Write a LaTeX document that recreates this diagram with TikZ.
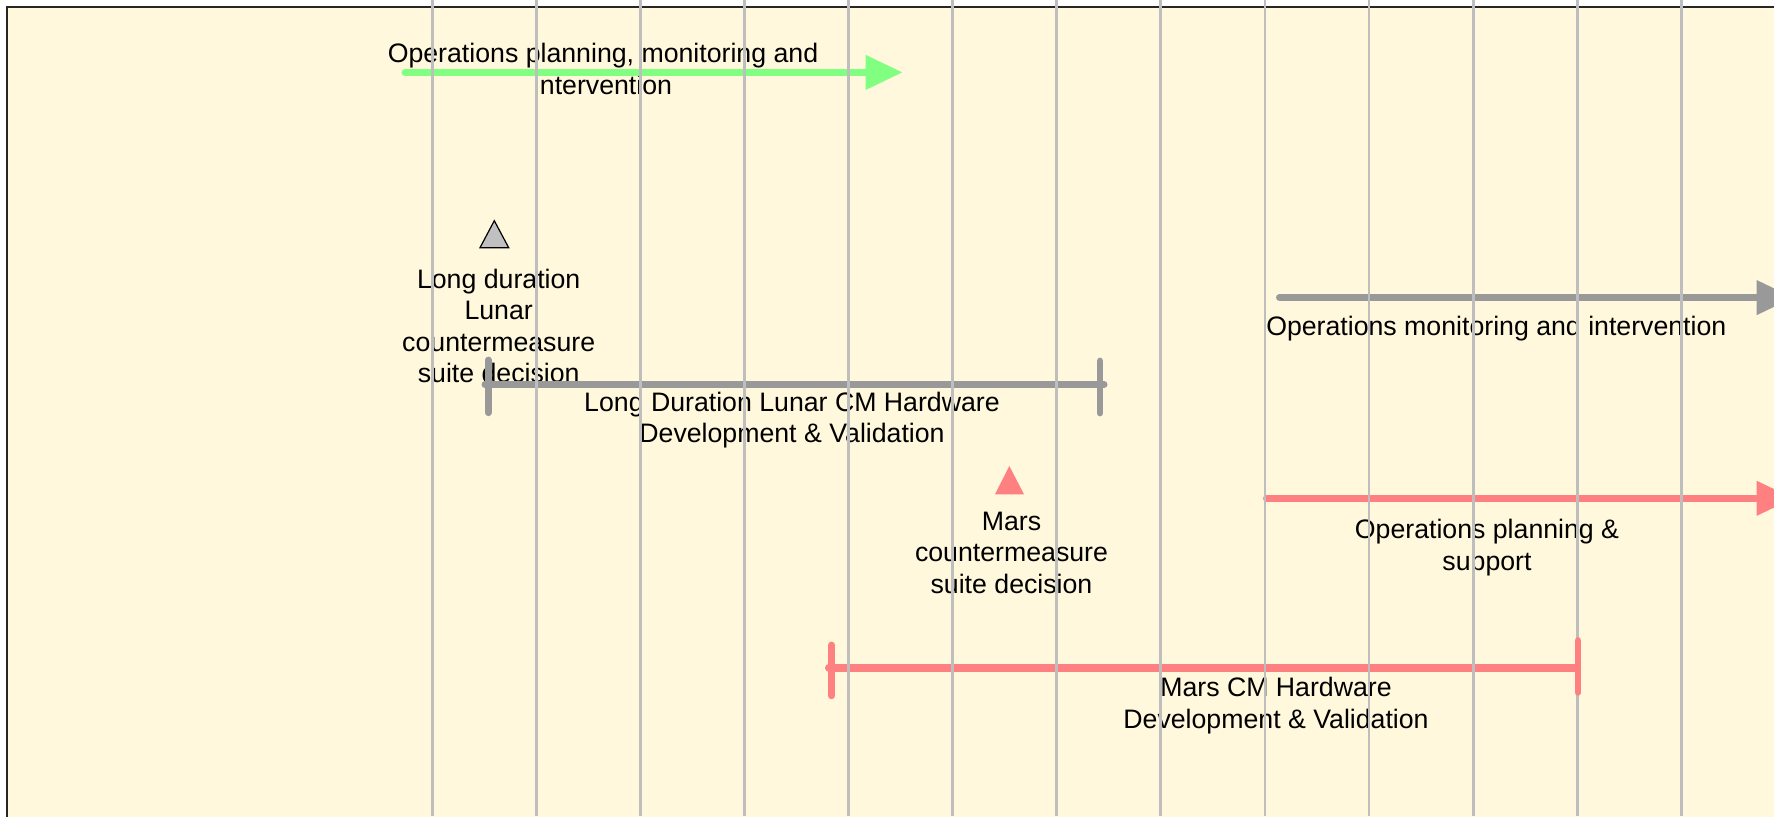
\documentclass[tikz,border=0pt]{standalone}
\usepackage{fontspec}
\setmainfont{Liberation Sans}
\usetikzlibrary{arrows.meta}
\definecolor{paper}{HTML}{FFF8DC}
\definecolor{gridgray}{HTML}{BEBEBE}
\definecolor{barpink}{HTML}{FF8080}
\definecolor{bargray}{HTML}{999999}
\definecolor{bargreen}{HTML}{80FF80}
\definecolor{trigray}{HTML}{C0C0C0}

\begin{document}
\begin{tikzpicture}[x=0.5pt,y=-0.5pt,
  lbl/.style={font=\fontsize{13.35}{15.8}\selectfont, align=center, inner sep=0pt, anchor=base},
  span/.style={line width=3.5pt, line cap=round},
  arrowspan/.style={span, -{Triangle[length=18.5pt,width=16.5pt]}},
  tickmark/.style={line width=3.4pt, line cap=round},
  gridline/.style={gridgray, line width=1.4pt}
]
\useasboundingbox (0,0) rectangle (1774,816);
\clip (0,0) rectangle (1774,816);

% panel
\fill[paper] (7,7) rectangle (1780,820);
\draw[line width=1pt, black!85] (7,820) -- (7,7) -- (1780,7);

% end points of the timeline spans
\coordinate (g1) at (405,72.4);    \coordinate (g2) at (902.7,72.4);
\coordinate (m1) at (1279.5,297.6); \coordinate (m2) at (1793.7,297.6);
\coordinate (p1) at (1266.5,498.3); \coordinate (p2) at (1793.7,498.3);
\coordinate (l1) at (485,384.5);    \coordinate (l2) at (1104,384.5);
\coordinate (h1) at (829,667.5);    \coordinate (h2) at (1575,667.5);

% labels (anchored at the baseline of their last line)
\node[lbl] (opsplan) at (603,94.4) {Operations planning, monitoring and\\intervention};
\node[lbl] (lunardec) at (498.7,382.8) {Long duration\\Lunar\\countermeasure\\suite decision};
\node[lbl] (lunarhw) at (792,442.9) {Long Duration Lunar CM Hardware\\Development \& Validation};
\node[lbl] (marsdec) at (1011.5,593.4) {Mars\\countermeasure\\suite decision};
\node[lbl] (opsmon) at (1496.3,335.5) {Operations monitoring and intervention};
\node[lbl] (opssup) at (1487,570.1) {Operations planning \&\\support};
\node[lbl] (marshw) at (1276,728.1) {Mars CM Hardware\\Development \& Validation};

% arrows
\draw[arrowspan, bargreen] (g1) -- (g2);
\draw[arrowspan, bargray] (m1) -- (m2);
\draw[arrowspan, barpink] (p1) -- (p2);

% hardware spans
\draw[span, bargray] (l1) -- (l2);
\draw[span, barpink, line width=4pt] (h1) -- (h2);

% milestones
\filldraw[fill=trigray, draw=black, line width=0.6pt] (494.3,220.7) -- (508.7,247.7) -- (480,247.7) -- cycle;
\fill[barpink] (1009.3,466) -- (1024,494.3) -- (995,494.3) -- cycle;

% time grid
\foreach \k in {0,...,12}
  \draw[gridline] ({432.4+104.07*\k},0) -- ({432.4+104.07*\k},816);

% end ticks of the hardware spans
\draw[tickmark, bargray] (488.3,360) -- (488.3,412.7);
\draw[tickmark, bargray] (1100,361) -- (1100,413);
\draw[tickmark, barpink] (831.6,645) -- (831.6,695.8);
\draw[tickmark, barpink] (1578,640.5) -- (1578,692.3);
\end{tikzpicture}
\end{document}
